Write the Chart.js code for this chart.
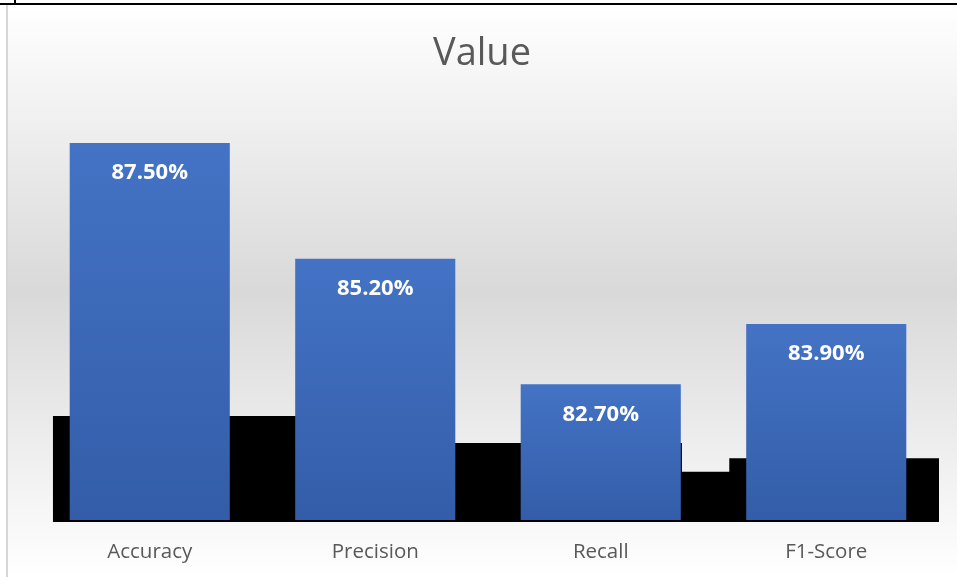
<!DOCTYPE html>
<html>
<head>
<meta charset="utf-8">
<script src="https://cdn.jsdelivr.net/npm/chart.js@4.4.1/dist/chart.umd.min.js"></script>
<style>
	html, body { margin: 0; padding: 0; background: #fff; }
	#wrap { width: 957px; height: 577px; position: relative; }
</style>
</head>
<body>
<div id="wrap"><canvas id="grafico"></canvas></div>
<script>
// dati del grafico
const titolo = 'Value';
const categorie = ['Accuracy', 'Precision', 'Recall', 'F1-Score'];
const valori = [87.5, 85.2, 82.7, 83.9];
// sagoma nera dietro le barre (in unità di categoria / valore)
const scalinoX = [-0.43, 1.0, 2.36, 2.57, 3.5];
const scalinoY = [82.07, 81.53, 80.96, 81.23, 81.23];

(function(){
	const FONT = "'Open Sans', 'Noto Sans', sans-serif";

	// sfondo sfumato, cornice e titolo
	const sfondo = {
		id: 'sfondo',
		beforeDraw(chart){
			const c = chart.ctx;
			const w = chart.width, h = chart.height;
			c.save();
			c.fillStyle = '#ffffff';
			c.fillRect(0, 0, w, h);
			const g = c.createLinearGradient(0, 5, 0, h);
			g.addColorStop(0, '#ffffff');
			g.addColorStop(0.5, '#d9d9d9');
			g.addColorStop(1, '#ffffff');
			c.fillStyle = g;
			c.fillRect(7, 5, w - 7, h - 5);
			c.fillStyle = '#d6d6d6';
			c.fillRect(6, 5, 2, h - 5);
			c.fillStyle = '#000';
			c.fillRect(0, 3, w, 2);
			c.fillRect(14, 0, 2, 5);
			// titolo
			c.fillStyle = '#595959';
			c.font = '38px ' + FONT;
			c.textAlign = 'center';
			c.textBaseline = 'middle';
			c.fillText(titolo, 482, 54);
			c.restore();
		}
	};

	// etichette bianche dentro le barre
	const etichette = {
		id: 'etichette',
		afterDatasetsDraw(chart){
			const meta = chart.getDatasetMeta(0);
			const c = chart.ctx;
			c.save();
			c.fillStyle = '#ffffff';
			c.font = 'bold 22px ' + FONT;
			c.textAlign = 'center';
			c.textBaseline = 'middle';
			meta.data.forEach((bar, i) => {
				c.fillText(valori[i].toFixed(2) + '%', bar.x, bar.y + 30);
			});
			c.restore();
		}
	};

	function coloreBarra(ctx){
		const chart = ctx.chart;
		const y = chart.scales.y;
		if(!y || !chart.chartArea || ctx.raw == null) return '#4472c4';
		const top = y.getPixelForValue(ctx.raw);
		const bot = y.getPixelForValue(80);
		const g = chart.ctx.createLinearGradient(0, top, 0, bot);
		g.addColorStop(0, '#4473c5');
		g.addColorStop(1, '#335da8');
		return g;
	}

	function creaGrafico(){
		const ctx = document.getElementById('grafico').getContext('2d');
		const data = {
			labels: categorie,
			datasets: [{
				type: 'bar',
				label: titolo,
				data: valori,
				base: 80,
				grouped: false,
				backgroundColor: coloreBarra,
				borderWidth: 0,
				barPercentage: 1,
				categoryPercentage: 0.71,
				order: 0
			}, {
				type: 'line',
				label: 'sfondo',
				xAxisID: 'x2',
				data: scalinoX.map((x, i) => ({ x: x, y: scalinoY[i] })),
				stepped: 'before',
				fill: 'start',
				backgroundColor: '#000000',
				borderWidth: 0,
				pointRadius: 0,
				order: 1
			}]
		};
		const config = {
			type: 'bar',
			data: data,
			plugins: [sfondo, etichette],
			options: {
				responsive: true,
				maintainAspectRatio: false,
				animation: false,
				layout: { padding: { left: 37, right: 18, top: 118, bottom: 11 } },
				scales: {
					x: {
						type: 'category',
						grid: { display: false, drawTicks: false },
						border: { display: false },
						ticks: { color: '#595959', font: { family: FONT, size: 20.5 }, padding: 18 },
						afterFit(scale){ scale.height = 44; }
					},
					x2: {
						type: 'linear',
						display: false,
						offset: false,
						min: -0.5,
						max: 3.5
					},
					y: {
						display: false,
						min: 79.96,
						max: 88
					}
				},
				plugins: {
					legend: { display: false },
					tooltip: { enabled: false },
					title: { display: false }
				}
			}
		};
		return new Chart(ctx, config);
	}

	if(document.readyState === 'loading') document.addEventListener('DOMContentLoaded', creaGrafico);
	else creaGrafico();
})();
</script>
</body>
</html>
